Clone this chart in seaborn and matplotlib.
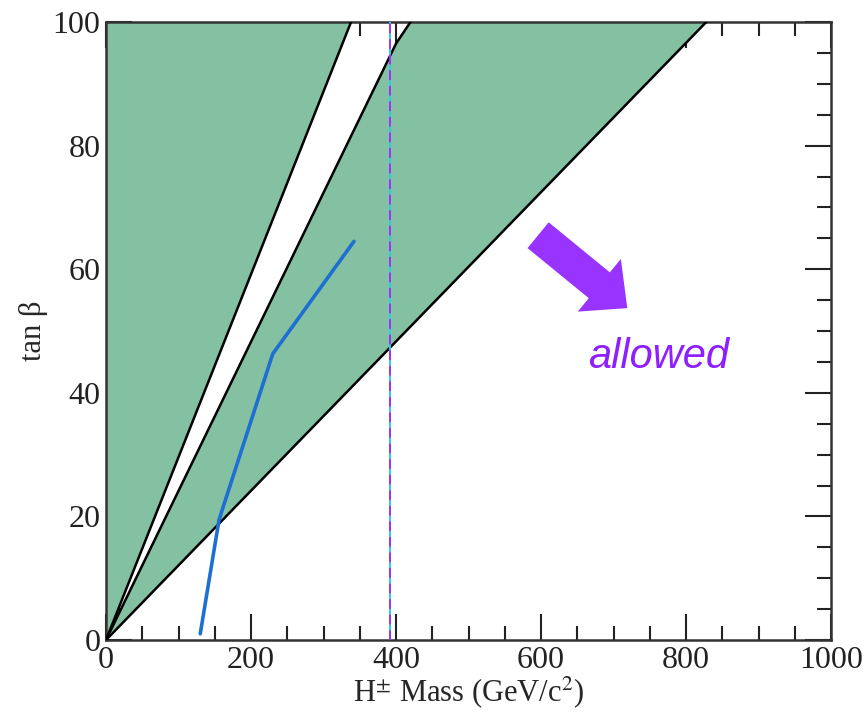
import numpy as np
import pandas as pd
import matplotlib
matplotlib.use("Agg")
import matplotlib.pyplot as plt
import seaborn as sns
from matplotlib.ticker import MultipleLocator

# ---- data ----
line1_x = [0, 338]          # left boundary of white gap
line1_y = [0, 100]
line2_x = [0, 400, 420]     # right edge of white gap
line2_y = [0, 96.5, 100]
line3_x = [0, 828]          # lower boundary of green band
line3_y = [0, 100]
blue_x = [130, 156, 230, 342]
blue_y = [1, 19.5, 46.3, 64.5]
vline_x = 392
arrow_tail = (596, 65.5)
arrow_tip = (719, 53.7)
allowed_pos = (762, 45.8)
x_ticks = [0, 200, 400, 600, 800, 1000]
y_ticks = [0, 20, 40, 60, 80, 100]

sns.set_style("ticks")
plt.rcParams["font.family"] = ["Liberation Serif", "DejaVu Serif"]
plt.rcParams["mathtext.fontset"] = "stix"

fig = plt.figure(figsize=(8.64, 7.16), dpi=100)
ax = fig.add_axes([106/864, 1-640/716, (831-106)/864, (640-22)/716])

green = "#84c1a3"
# green region between the y axis and line 1
ax.fill(np.r_[line1_x, 0], np.r_[line1_y, line1_y[-1]],
        color=green, lw=0, zorder=1)
# green band between line 2 and line 3
ax.fill(np.r_[line2_x, line3_x[::-1]], np.r_[line2_y, line3_y[::-1]],
        color=green, lw=0, zorder=1)

for xs, ys in [(line1_x, line1_y), (line2_x, line2_y), (line3_x, line3_y)]:
    sns.lineplot(x=xs, y=ys, ax=ax, color="black", lw=1.8, sort=False,
                 estimator=None, zorder=3)

sns.lineplot(x=blue_x, y=blue_y, ax=ax, color="#1f6fd2", lw=2.6, sort=False,
             estimator=None, zorder=4)

ax.axvline(vline_x, color="#33c8e8", lw=1.4, zorder=5)
ax.axvline(vline_x, color="#9933ff", lw=1.4, ls=(0, (5, 3)), zorder=6)

ax.annotate("", xy=arrow_tip, xytext=arrow_tail,
            arrowprops=dict(arrowstyle="simple,head_width=49,head_length=26,tail_width=24",
                            mutation_scale=1, color="#9933ff", lw=0,
                            shrinkA=0, shrinkB=0), zorder=7)
ax.text(allowed_pos[0], allowed_pos[1], "allowed", fontsize=30, style="italic",
        family=["Liberation Sans", "DejaVu Sans"], color="#8f1fff",
        ha="center", va="center", zorder=7)

ax.set_xlim(0, 1000)
ax.set_ylim(0, 100)
ax.set_xticks(x_ticks)
ax.set_yticks(y_ticks)
ax.xaxis.set_minor_locator(MultipleLocator(50))
ax.yaxis.set_minor_locator(MultipleLocator(5))
ax.tick_params(which="both", direction="in", top=True, right=True,
               colors="#222222", labelcolor="#222222", width=1.5, labelsize=23, pad=4)
ax.tick_params(which="major", length=19)
ax.tick_params(which="minor", length=10)
for s in ax.spines.values():
    s.set_visible(True)
    s.set_linewidth(1.8)
    s.set_color("#333333")

ax.set_xlabel(r"H$^{\pm}$ Mass (GeV/c$^{2}$)", fontsize=22, labelpad=0)
ax.set_ylabel("tan β", fontsize=22, labelpad=3)

fig.savefig("out.png", dpi=100)
